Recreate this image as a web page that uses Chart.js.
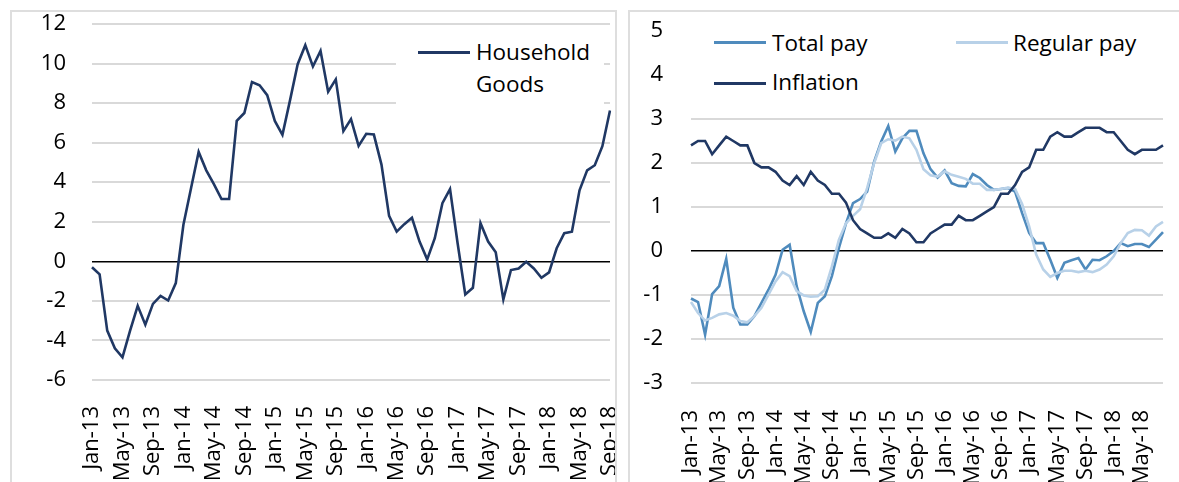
<!DOCTYPE html>
<html>
<head>
<meta charset="utf-8">
<script src="https://cdn.jsdelivr.net/npm/chart.js@4.4.1/dist/chart.umd.min.js"></script>
<style>
    html, body { margin: 0; padding: 0; background: #fff; overflow: hidden; }
    body { width: 1179px; height: 482px; position: relative; font-family: "Open Sans", sans-serif; }
    .panel { position: absolute; top: 10px; height: 520px; border: 2px solid #dedede; box-sizing: border-box; }
    canvas { position: absolute; top: 0; }
    .legend { position: absolute; background: #fff; }
    .swatch { position: absolute; height: 3px; width: 52px; }
    .lbl { position: absolute; font-size: 22.5px; line-height: 32px; color: #000; white-space: nowrap; }
</style>
</head>
<body>
<div class="panel" style="left:10px; width:607px;"></div>
<div class="panel" style="left:628px; width:560px;"></div>

<canvas id="leftChart" width="615" height="482" style="left:0;"></canvas>
<canvas id="rightChart" width="549" height="482" style="left:630px;"></canvas>

<div class="legend" style="left:396px; top:30px; width:208px; height:85px;"></div>
<div class="swatch" style="left:418px; top:51px; background:#203864;"></div>
<div class="lbl" style="left:476px; top:36px;">Household<br>Goods</div>

<div class="legend" style="left:688px; top:20px; width:476px; height:88px;"></div>
<div class="swatch" style="left:714px; top:41px; background:#4f8bbd;"></div>
<div class="lbl" style="left:772px; top:27px;">Total pay</div>
<div class="swatch" style="left:956px; top:41px; background:#b8d1e8;"></div>
<div class="lbl" style="left:1013px; top:27px;">Regular pay</div>
<div class="swatch" style="left:714px; top:82px; background:#203864;"></div>
<div class="lbl" style="left:772px; top:66px;">Inflation</div>

<script>
const months = [
    "Jan-13","Feb-13","Mar-13","Apr-13","May-13","Jun-13","Jul-13","Aug-13","Sep-13","Oct-13","Nov-13","Dec-13",
    "Jan-14","Feb-14","Mar-14","Apr-14","May-14","Jun-14","Jul-14","Aug-14","Sep-14","Oct-14","Nov-14","Dec-14",
    "Jan-15","Feb-15","Mar-15","Apr-15","May-15","Jun-15","Jul-15","Aug-15","Sep-15","Oct-15","Nov-15","Dec-15",
    "Jan-16","Feb-16","Mar-16","Apr-16","May-16","Jun-16","Jul-16","Aug-16","Sep-16","Oct-16","Nov-16","Dec-16",
    "Jan-17","Feb-17","Mar-17","Apr-17","May-17","Jun-17","Jul-17","Aug-17","Sep-17","Oct-17","Nov-17","Dec-17",
    "Jan-18","Feb-18","Mar-18","Apr-18","May-18","Jun-18","Jul-18","Aug-18","Sep-18"
];
const payMonths = months.slice(0, 68);

const householdGoods = [
    -0.3, -0.66, -3.5, -4.4, -4.85, -3.5, -2.25, -3.2, -2.15, -1.75, -1.98, -1.1,
    1.85, 3.7, 5.53, 4.6, 3.9, 3.15, 3.15, 7.1, 7.5, 9.07, 8.9, 8.4,
    7.1, 6.4, 8.15, 9.97, 10.93, 9.85, 10.64, 8.58, 9.2, 6.58, 7.19, 5.84,
    6.45, 6.41, 4.89, 2.3, 1.5, 1.88, 2.2, 1.0, 0.1, 1.17, 2.94, 3.65,
    0.9, -1.68, -1.34, 1.93, 1.0, 0.46, -1.93, -0.44, -0.36, -0.02, -0.36, -0.83,
    -0.56, 0.66, 1.42, 1.5, 3.59, 4.6, 4.86, 5.82, 7.63
];

const totalPay = [
    -1.08, -1.16, -1.9, -0.98, -0.8, -0.18, -1.29, -1.67, -1.67, -1.48, -1.18, -0.88,
    -0.54, 0.03, 0.14, -0.8, -1.37, -1.84, -1.18, -1.03, -0.57, 0.07, 0.63, 1.09,
    1.18, 1.35, 2.03, 2.49, 2.84, 2.26, 2.56, 2.73, 2.73, 2.22, 1.86, 1.67,
    1.83, 1.54, 1.48, 1.47, 1.75, 1.66, 1.5, 1.39, 1.41, 1.43, 1.35, 0.86,
    0.41, 0.18, 0.18, -0.2, -0.61, -0.27, -0.21, -0.16, -0.42, -0.2, -0.21, -0.12,
    0.0, 0.18, 0.11, 0.16, 0.16, 0.09, 0.26, 0.43
];

const regularPay = [
    -1.16, -1.41, -1.58, -1.52, -1.44, -1.41, -1.47, -1.59, -1.62, -1.48, -1.29, -0.99,
    -0.69, -0.48, -0.57, -0.91, -1.01, -1.04, -1.03, -0.88, -0.35, 0.26, 0.63, 0.8,
    0.95, 1.43, 2.0, 2.45, 2.54, 2.51, 2.6, 2.56, 2.3, 1.86, 1.72, 1.69,
    1.81, 1.73, 1.69, 1.64, 1.53, 1.53, 1.39, 1.39, 1.41, 1.44, 1.41, 1.07,
    0.56, -0.08, -0.42, -0.59, -0.5, -0.45, -0.45, -0.48, -0.45, -0.48, -0.42, -0.31,
    -0.12, 0.18, 0.41, 0.48, 0.47, 0.35, 0.56, 0.66
];

const inflation = [
    2.4, 2.5, 2.5, 2.2, 2.4, 2.6, 2.5, 2.4, 2.4, 2.0, 1.9, 1.9,
    1.8, 1.6, 1.5, 1.7, 1.5, 1.8, 1.6, 1.5, 1.3, 1.3, 1.1, 0.7,
    0.5, 0.4, 0.3, 0.3, 0.4, 0.3, 0.5, 0.4, 0.2, 0.2, 0.4, 0.5,
    0.6, 0.6, 0.8, 0.7, 0.7, 0.8, 0.9, 1.0, 1.3, 1.3, 1.5, 1.8,
    1.9, 2.3, 2.3, 2.6, 2.7, 2.6, 2.6, 2.7, 2.8, 2.8, 2.8, 2.7,
    2.7, 2.5, 2.3, 2.2, 2.3, 2.3, 2.3, 2.4
];

const tickFont = { family: "Open Sans", size: 22 };

function lineSet(label, data, color, order) {
    return { label, data, borderColor: color, borderWidth: 2.6, pointRadius: 0, tension: 0, fill: false, order };
}

function makeScales(yMin, yMax, yWidth, xHeight, xPad, yPad) {
    return {
        x: {
            type: 'category',
            offset: false,
            grid: { display: false },
            border: { display: false },
            ticks: {
                autoSkip: false, maxRotation: 90, minRotation: 90,
                padding: xPad, color: '#000', font: tickFont,
                callback: function (value, index) {
                    return index % 4 === 0 ? this.getLabelForValue(value) : '';
                }
            },
            afterFit: scale => { scale.height = xHeight; scale.paddingLeft = 0; scale.paddingRight = 0; }
        },
        y: {
            min: yMin, max: yMax,
            border: { display: false },
            grid: {
                drawTicks: false,
                color: c => c.tick.value === 0 ? '#000' : '#d9d9d9',
                lineWidth: c => c.tick.value === 0 ? 1.6 : 2
            },
            ticks: { stepSize: yMin === -6 ? 2 : 1, padding: yPad, color: '#000', font: tickFont },
            afterFit: scale => { scale.width = yWidth; scale.paddingTop = 0; scale.paddingBottom = 0; }
        }
    };
}

const common = {
    responsive: false,
    maintainAspectRatio: false,
    animation: false,
    devicePixelRatio: 1,
    plugins: { legend: { display: false }, tooltip: { enabled: false } }
};

new Chart(document.getElementById("leftChart").getContext("2d"), {
    type: "line",
    data: {
        labels: months,
        datasets: [lineSet("Household Goods", householdGoods, "#203864", 1)]
    },
    options: {
        ...common,
        layout: { padding: { left: 0, right: 5, top: 24, bottom: 0 } },
        scales: makeScales(-6, 12, 92, 102, 18, 26)
    }
});

new Chart(document.getElementById("rightChart").getContext("2d"), {
    type: "line",
    data: {
        labels: payMonths,
        datasets: [
            lineSet("Total pay", totalPay, "#4f8bbd", 3),
            lineSet("Regular pay", regularPay, "#b8d1e8", 2),
            lineSet("Inflation", inflation, "#203864", 1)
        ]
    },
    options: {
        ...common,
        layout: { padding: { left: 0, right: 16, top: 31, bottom: 0 } },
        scales: makeScales(-3, 5, 61, 99, 19, 28)
    }
});
</script>
</body>
</html>
